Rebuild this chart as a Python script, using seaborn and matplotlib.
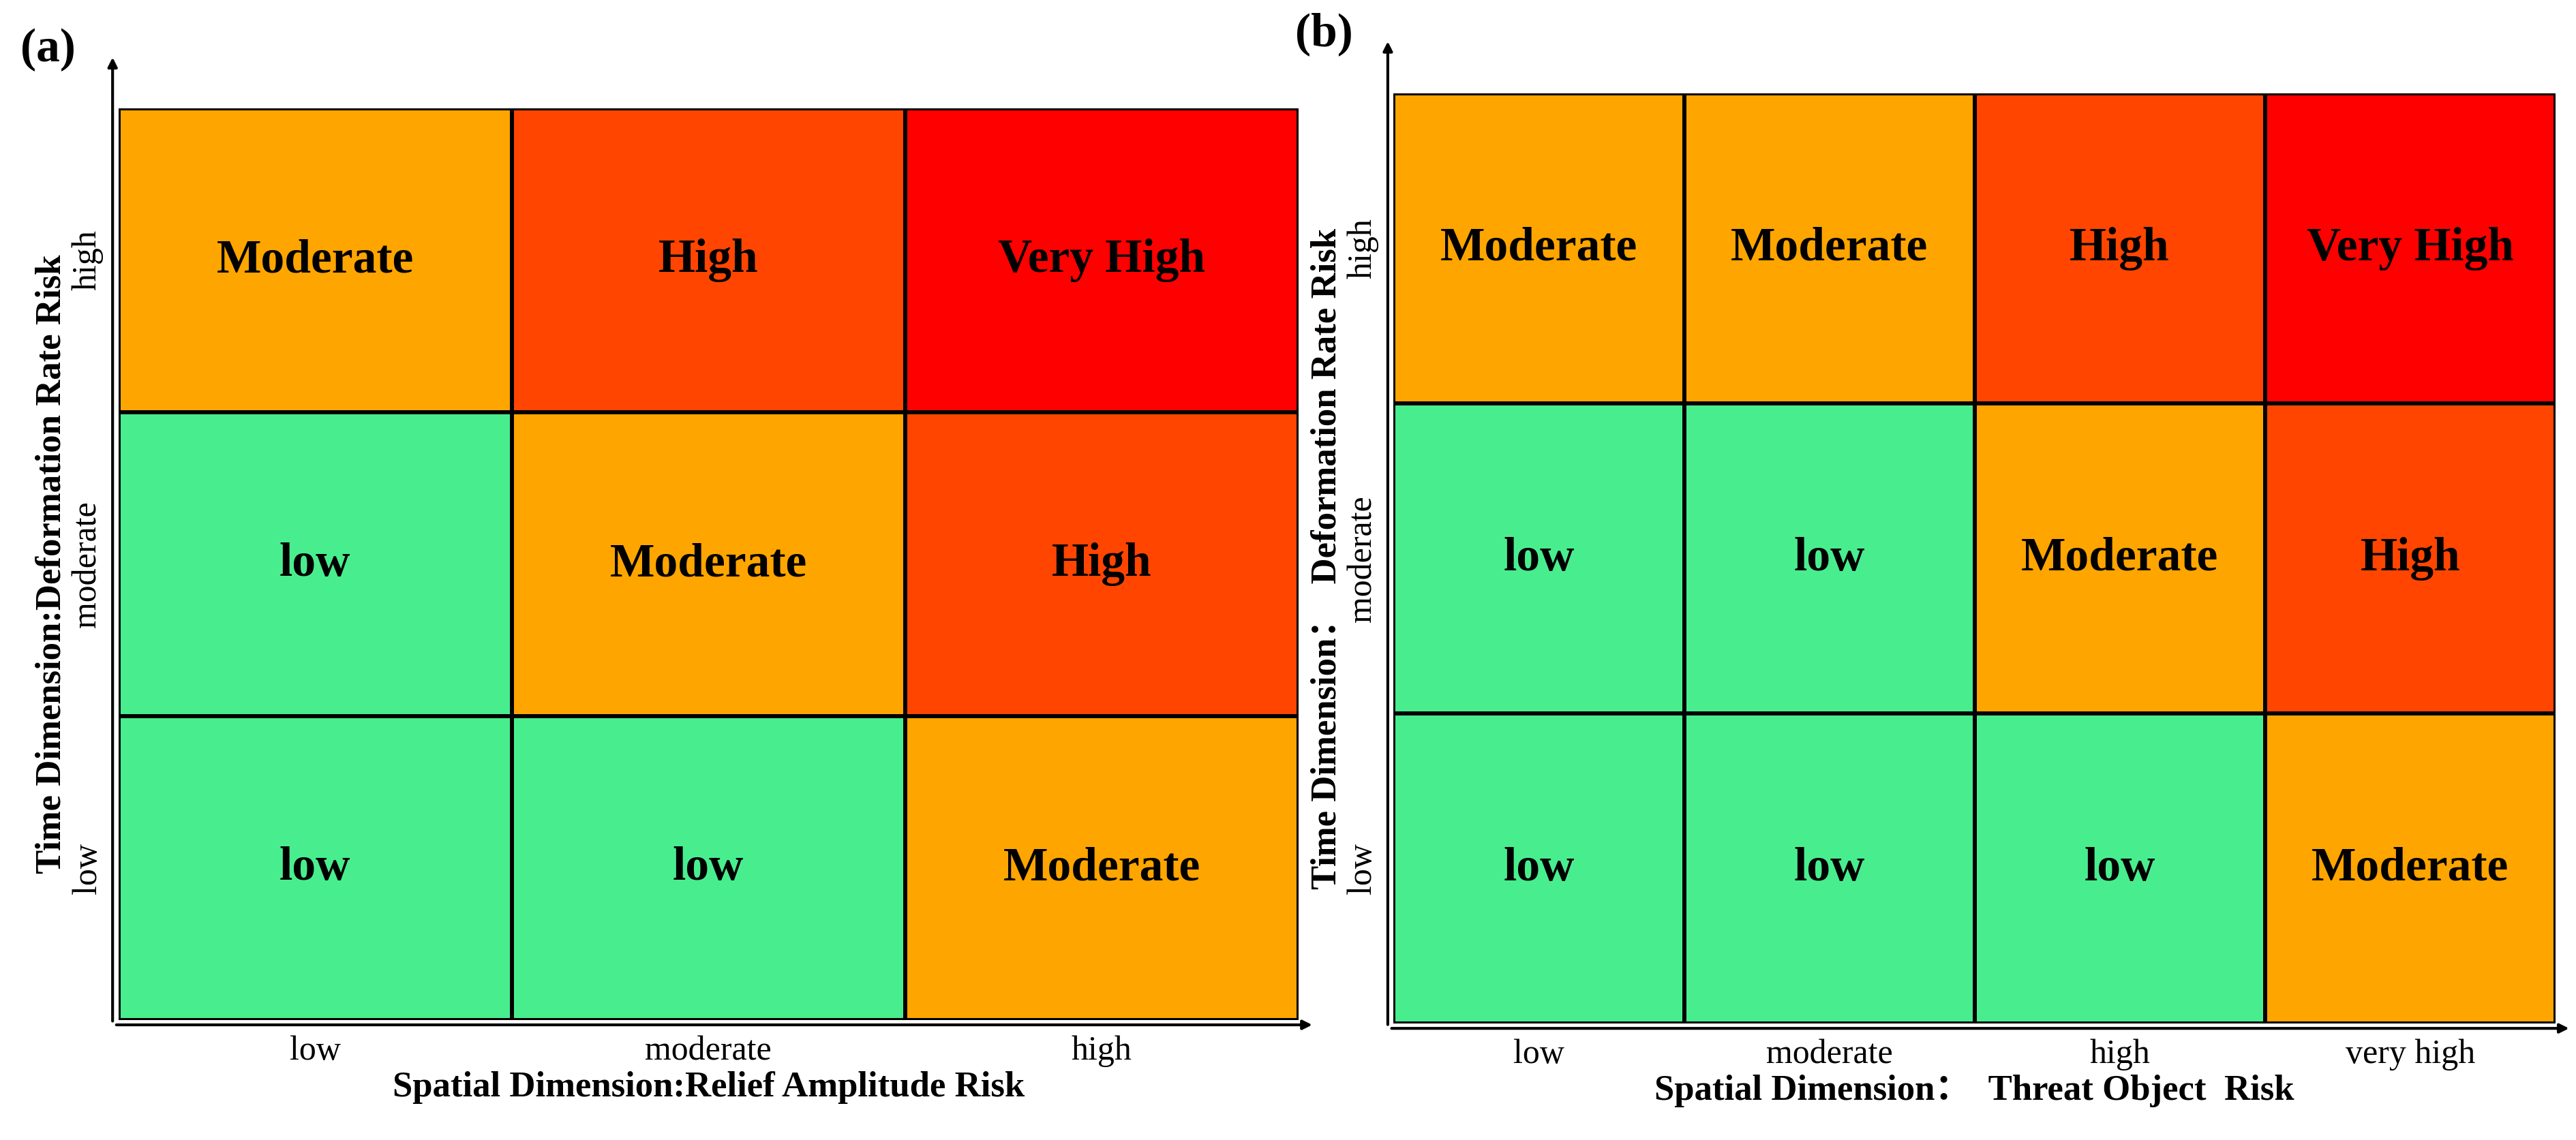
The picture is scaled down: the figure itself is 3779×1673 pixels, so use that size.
import numpy as np
import pandas as pd
import matplotlib.pyplot as plt
import seaborn as sns
from matplotlib.colors import ListedColormap

plt.rcParams['font.family'] = ['Liberation Serif', 'Noto Sans CJK SC', 'DejaVu Serif']

colors = ['#48EE8E',   # low - green
          '#FFA500',   # moderate - orange
          '#FF4500',   # high - red-orange
          '#FF0000']   # very high - red
level_names = ['low', 'Moderate', 'High', 'Very High']
cmap = ListedColormap(colors)

# risk matrices (rows: time dimension high -> low)
risk_a = pd.DataFrame([[1, 2, 3],
                       [0, 1, 2],
                       [0, 0, 1]],
                      index=['high', 'moderate', 'low'],
                      columns=['low', 'moderate', 'high'])
risk_b = pd.DataFrame([[1, 1, 2, 3],
                       [0, 0, 1, 2],
                       [0, 0, 0, 1]],
                      index=['high', 'moderate', 'low'],
                      columns=['low', 'moderate', 'high', 'very high'])

fig = plt.figure(figsize=(18.895, 8.365), dpi=200)
ax_a = fig.add_axes([0.046, 0.105, 0.458, 0.80])
ax_b = fig.add_axes([0.541, 0.102, 0.451, 0.816])

panels = [
    (ax_a, risk_a, '(a)', 'Spatial Dimension:Relief Amplitude Risk', 'Time Dimension:Deformation Rate Risk'),
    (ax_b, risk_b, '(b)', 'Spatial Dimension：  Threat Object  Risk', 'Time Dimension：  Deformation Rate Risk'),
]

for ax, df, tag, xlab, ylab in panels:
    labels = df.map(lambda v: level_names[v])
    sns.heatmap(df, ax=ax, cmap=cmap, vmin=-0.5, vmax=3.5, cbar=False,
                annot=labels, fmt='', linewidths=1.5, linecolor='black',
                annot_kws={'fontsize': 25, 'fontweight': 'bold', 'color': 'black'})
    ax.tick_params(length=0, labelsize=18, pad=8)
    ax.set_yticklabels(df.index, rotation=90, va='center')
    ax.set_xlabel(xlab, fontsize=19, fontweight='bold', labelpad=2)
    ax.set_ylabel(ylab, fontsize=19, fontweight='bold', labelpad=2)
    # axis arrows
    ax.annotate('', xy=(1.015, -0.005), xytext=(-0.005, -0.005), xycoords='axes fraction',
                arrowprops=dict(arrowstyle='-|>', color='black', lw=1.5), annotation_clip=False)
    ax.annotate('', xy=(-0.005, 1.06), xytext=(-0.005, -0.005), xycoords='axes fraction',
                arrowprops=dict(arrowstyle='-|>', color='black', lw=1.5), annotation_clip=False)
    ax.text(-0.06, 1.04, tag, transform=ax.transAxes, fontsize=25, fontweight='bold',
            ha='center', va='bottom')

fig.savefig('out.png', dpi=200)
